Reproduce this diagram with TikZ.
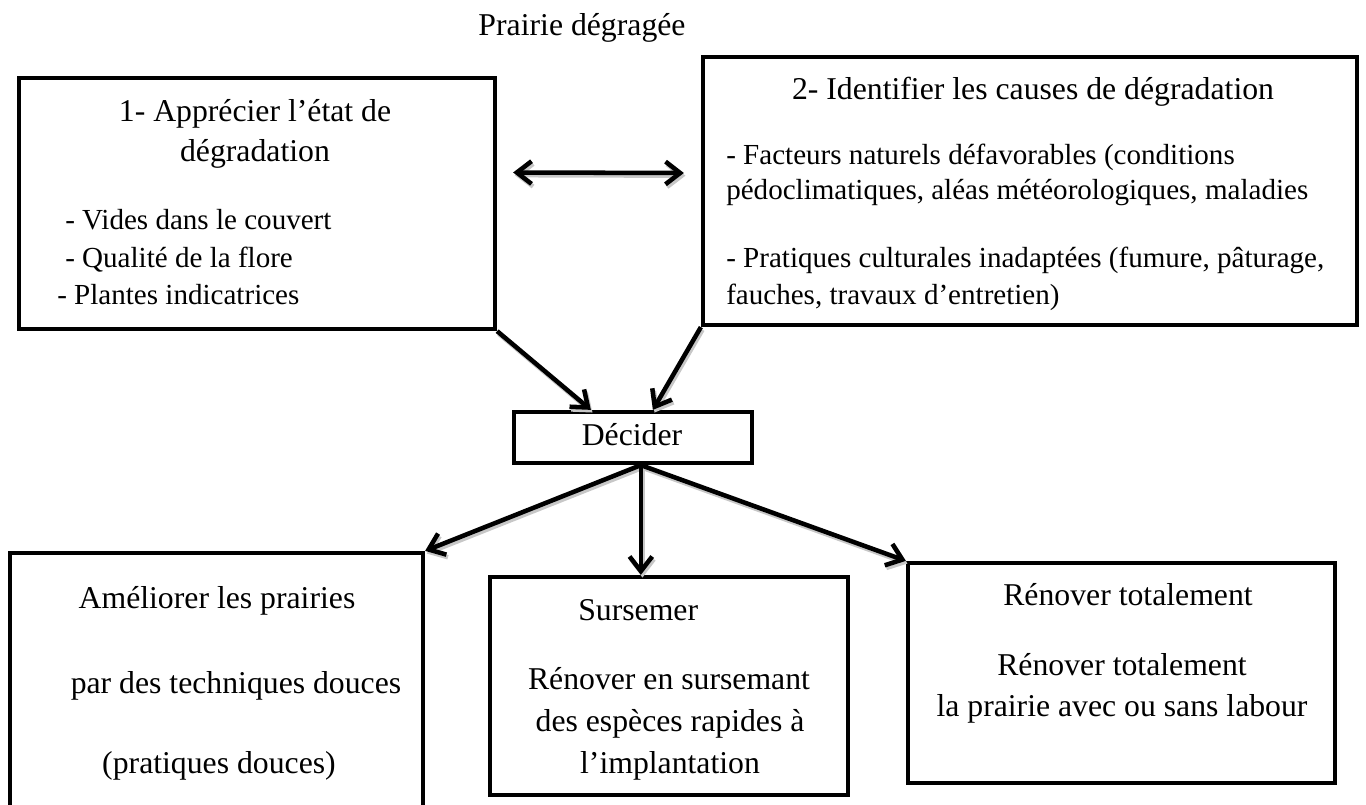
\documentclass[tikz,border=0pt]{standalone}
\usepackage{fontspec}
\setmainfont{Liberation Serif}
\usetikzlibrary{arrows.meta,calc,fit}
\begin{document}
\begin{tikzpicture}[x=0.75pt,y=-0.75pt,
  box/.style={draw, line width=3.2pt, rectangle, inner sep=0pt},
  barb/.style={Straight Barb[length=11pt,width=17pt,line width=3.4pt]},
  conn/.style={line width=3.4pt, -{Straight Barb[length=11pt,width=17pt,line width=3.4pt]}},
  dconn/.style={line width=3.4pt, {Straight Barb[length=11pt,width=17pt,line width=3.4pt]}-{Straight Barb[length=11pt,width=17pt,line width=3.4pt]}},
  shad/.style={draw=black!22, transform canvas={shift={(1.2pt,-2pt)}}},
  txt/.style={font=\fontsize{23.8}{28}\selectfont, inner sep=0pt, anchor=base},
  ltxt/.style={txt, anchor=base west},
  stxt/.style={font=\fontsize{21.8}{26}\selectfont, inner sep=0pt, anchor=base west}]
\useasboundingbox (0,0) rectangle (1366,805);

% title
\node[txt] (title) at (582,36) {Prairie dégragée};

% boxes
\node[box, fit={(19,78) (495,329)}] (b1) {};
\node[box, fit={(703,57) (1357,325)}] (b2) {};
\node[box, fit={(514,412) (752,463)}] (dec) {};
\node[box, fit={(10,553) (423,812)}] (bA) {};
\node[box, fit={(490,577) (848,795)}] (bB) {};
\node[box, fit={(908,563) (1335,783)}] (bC) {};

% box 1 text
\node[txt] (t1a) at (255,122) {1- Apprécier l’état de};
\node[txt] (t1b) at (255,162) {dégradation};
\node[stxt] (t1c) at (65,230) {- Vides dans le couvert};
\node[stxt] (t1d) at (65,268) {- Qualité de la flore};
\node[stxt] (t1e) at (57,305) {- Plantes indicatrices};

% box 2 text
\node[txt] (t2a) at (1033,100) {2- Identifier les causes de dégradation};
\node[stxt] (t2b) at (726,165) {- Facteurs naturels défavorables (conditions};
\node[stxt] (t2c) at (726,200) {pédoclimatiques, aléas météorologiques, maladies};
\node[stxt] (t2d) at (726,268) {- Pratiques culturales inadaptées (fumure, pâturage,};
\node[stxt] (t2e) at (726,305) {fauches, travaux d’entretien)};

% decider
\node[txt] (tdec) at (632,445) {Décider};

% box A text
\node[txt] (tAa) at (217,608) {Améliorer les prairies};
\node[txt] (tAb) at (236,693) {par des techniques douces};
\node[txt] (tAc) at (219,773) {(pratiques douces)};

% box B text
\node[ltxt] (tBa) at (578,620) {Sursemer};
\node[txt] (tBb) at (669,689) {Rénover en sursemant};
\node[txt] (tBc) at (670,731) {des espèces rapides à};
\node[txt] (tBd) at (670,773) {l’implantation};

% box C text
\node[txt] (tCa) at (1128,605) {Rénover totalement};
\node[txt] (tCb) at (1122,675) {Rénover totalement};
\node[txt] (tCc) at (1122,716) {la prairie avec ou sans labour};

% connector anchors
\coordinate (dl) at ($(b1.east)+(16,-31)$);
\coordinate (dr) at ($(b2.west)+(-17,-18)$);
\coordinate (din1) at ($(dec.north west)+(79,0)$);
\coordinate (din2) at ($(dec.north west)+(141,0)$);
\coordinate (dsrc) at ($(dec.south west)+(129,0)$);

% shadows
\draw[dconn, shad] (dl) -- (dr);
\draw[conn, shad] (b1.south east) -- (din1);
\draw[conn, shad] (b2.south west) -- (din2);
\draw[conn, shad] (dsrc) -- (bA.north east);
\draw[conn, shad] (dsrc) -- (dsrc |- bB.north);
\draw[conn, shad] (dsrc) -- (bC.north west);

% connectors
\draw[dconn] (dl) -- (dr);
\draw[conn] (b1.south east) -- (din1);
\draw[conn] (b2.south west) -- (din2);
\draw[conn] (dsrc) -- (bA.north east);
\draw[conn] (dsrc) -- (dsrc |- bB.north);
\draw[conn] (dsrc) -- (bC.north west);
\end{tikzpicture}
\end{document}
